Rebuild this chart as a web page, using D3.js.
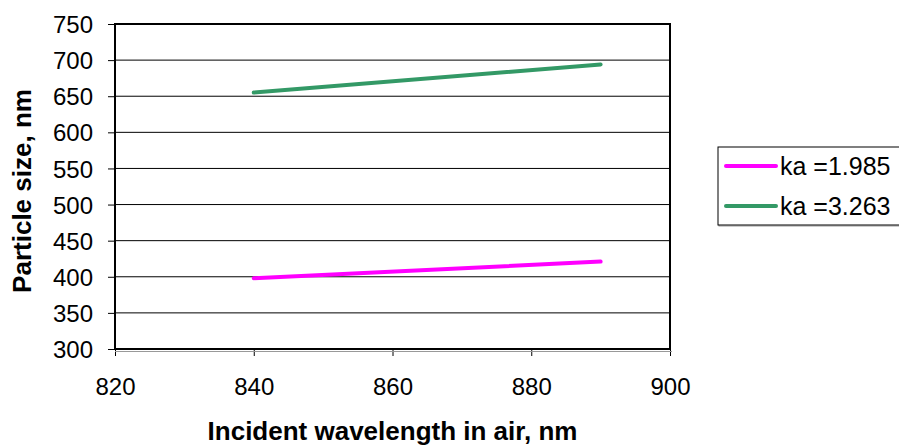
<!DOCTYPE html>
<html><head>
<meta charset="utf-8">
<script src="https://d3js.org/d3.v7.min.js"></script>
<style>
  body { margin: 0; background: #fff; }
  text { font-family: "Liberation Sans", Arial, sans-serif; fill: #000; }
  .tick text { font-size: 24px; }
  .title { font-size: 26px; font-weight: bold; }
  .legend text { font-size: 25px; }
</style>
</head>
<body>
<svg width="899" height="448"></svg>
<script>
// data
var wavelength = [840, 890];
var series = [
  { name: "ka =1.985", color: "#ff00ff", values: [398, 421] },
  { name: "ka =3.263", color: "#339966", values: [655, 694] }
];
var xTicks = [820, 840, 860, 880, 900];
var yTicks = [300, 350, 400, 450, 500, 550, 600, 650, 700, 750];

var svg = d3.select("svg");
var plotL = 115, plotR = 670, plotT = 24, plotB = 349;

var x = d3.scaleLinear().domain([820, 900]).range([plotL, plotR]);
var y = d3.scaleLinear().domain([300, 750]).range([plotB, plotT]);

// grid
svg.append("g").selectAll("line")
  .data(yTicks.slice(1))
  .enter().append("line")
  .attr("x1", plotL).attr("x2", plotR)
  .attr("y1", function(d) { return y(d); })
  .attr("y2", function(d) { return y(d); })
  .attr("stroke", "#000").attr("stroke-width", 1);

// axes
var yAxis = d3.axisLeft(y).tickValues(yTicks).tickSize(7).tickPadding(15);
var gy = svg.append("g").attr("transform", "translate(" + plotL + ",0)").call(yAxis);
var xAxis = d3.axisBottom(x).tickValues(xTicks).tickSize(7).tickPadding(22);
var gx = svg.append("g").attr("transform", "translate(0," + plotB + ")").call(xAxis);
[gx, gy].forEach(function(g) {
  g.select(".domain").remove();
  g.selectAll(".tick line").attr("stroke", "#000");
  g.selectAll(".tick text").attr("font-family", null).attr("font-size", null);
});
gy.selectAll(".tick text").attr("dy", "0.36em");

// small grey shadow under the x axis
svg.append("line")
  .attr("x1", plotL).attr("x2", plotR + 2)
  .attr("y1", plotB + 2.5).attr("y2", plotB + 2.5)
  .attr("stroke", "#999").attr("stroke-width", 1);

// frame
svg.append("rect")
  .attr("x", plotL).attr("y", plotT)
  .attr("width", plotR - plotL).attr("height", plotB - plotT)
  .attr("fill", "none").attr("stroke", "#000").attr("stroke-width", 2);

// lines
var line = d3.line()
  .x(function(d, i) { return x(wavelength[i]); })
  .y(function(d) { return y(d); });

svg.append("g").selectAll("path")
  .data(series)
  .enter().append("path")
  .attr("d", function(d) { return line(d.values); })
  .attr("fill", "none")
  .attr("stroke", function(d) { return d.color; })
  .attr("stroke-width", 4)
  .attr("stroke-linecap", "round");

// axis titles
svg.append("text").attr("class", "title")
  .attr("x", (plotL + plotR) / 2).attr("y", 440)
  .attr("text-anchor", "middle")
  .text("Incident wavelength in air, nm");

svg.append("text").attr("class", "title")
  .attr("transform", "translate(31,191) rotate(-90)")
  .attr("text-anchor", "middle")
  .text("Particle size, nm");

// legend
var lg = svg.append("g").attr("class", "legend");
lg.append("rect")
  .attr("x", 719).attr("y", 148)
  .attr("width", 200).attr("height", 78)
  .attr("fill", "none").attr("stroke", "#999").attr("stroke-width", 1);
lg.append("rect")
  .attr("x", 718).attr("y", 147)
  .attr("width", 200).attr("height", 78)
  .attr("fill", "#fff").attr("stroke", "#000").attr("stroke-width", 1);

var item = lg.selectAll(".item")
  .data(series)
  .enter().append("g")
  .attr("transform", function(d, i) { return "translate(0," + (166 + i * 40) + ")"; });
item.append("line")
  .attr("x1", 726).attr("x2", 776)
  .attr("stroke", function(d) { return d.color; })
  .attr("stroke-width", 4).attr("stroke-linecap", "round");
item.append("text")
  .attr("x", 780).attr("y", 9)
  .text(function(d) { return d.name; });
</script>
</body></html>
